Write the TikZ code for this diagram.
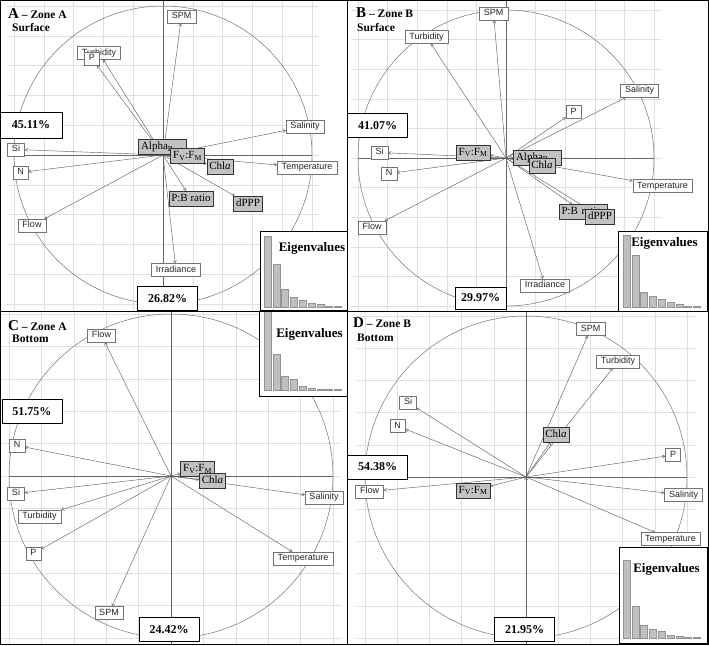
\documentclass[tikz,border=0pt]{standalone}
\usepackage{fontspec}
\setmainfont{Liberation Serif}
\newfontfamily\arial{Liberation Sans}
\usetikzlibrary{arrows.meta,shadows}
\pgfdeclarelayer{back}
\pgfdeclarelayer{mid}
\pgfsetlayers{back,mid,main}
\definecolor{boxgray}{gray}{0.76}
\definecolor{bargray}{gray}{0.75}
\tikzstyle{varbox}   = [draw=black!55,fill=white,inner xsep=4.5pt,inner ysep=2.4pt,text height=6.6pt,text depth=1.7pt,text=black!85,font=\arial\fontsize{9}{10}\selectfont]
\tikzstyle{respbox}  = [draw=black!80,fill=boxgray,inner xsep=2.5pt,inner ysep=2.4pt,text height=7.6pt,text depth=2.4pt,font=\fontsize{11}{12}\selectfont,drop shadow={shadow xshift=0.8pt,shadow yshift=-0.8pt,opacity=1,fill=black!65}]
\tikzstyle{pctbox}   = [draw,line width=0.9pt,fill=white,minimum width=60pt,minimum height=24pt,inner sep=0pt,font=\bfseries\fontsize{12}{13}\selectfont]
\tikzstyle{eigbox}   = [draw,line width=1pt,fill=white,inner sep=0pt]
\tikzstyle{eiglabel} = [inner sep=0pt,font=\bfseries\fontsize{13}{14}\selectfont]
\tikzstyle{eigbar}   = [fill=bargray,draw=gray!85,line width=0.3pt]
\tikzstyle{paneltitle} = [anchor=base west,inner sep=0pt,font=\bfseries\fontsize{11.5}{13}\selectfont]
\tikzstyle{loading}  = [->,>={Straight Barb[length=2.5pt,width=3.2pt]},draw=black!62,line width=0.45pt]
\tikzstyle{gridline} = [gray!25,line width=0.5pt]
\tikzstyle{axisline} = [black!60,line width=0.8pt]
\tikzstyle{circ}     = [black!55,line width=0.5pt]
% grid, circle and axes of one panel: cx, cy, r, x0, x1, y0, y1
\newcommand{\pcaback}[7]{%
  \begin{scope}
    \clip (#4,#6) rectangle (#5,#7);
    \foreach \k in {-5,...,5}{
      \draw[gridline] ({#1+\k*#3/5},#6) -- ({#1+\k*#3/5},#7);
      \draw[gridline] ({#1-1.05*#3},{#2+\k*#3/5}) -- ({#1+1.05*#3},{#2+\k*#3/5});
    }
    \draw[axisline] (#1,#6) -- (#1,#7);
    \draw[axisline] ({#1-#3},#2) -- ({#1+#3},#2);
    \draw[circ] (#1,#2) circle[radius=#3];
  \end{scope}}

\begin{document}
\begin{tikzpicture}[x=1pt,y=-1pt]
\useasboundingbox (0,0) rectangle (709,645);

\begin{pgfonlayer}{back}
\pcaback{163}{155}{149}{0}{347}{0}{311}
\pcaback{506}{158}{148}{347}{709}{0}{311}
\pcaback{171}{476}{162}{0}{347}{311}{645}
\pcaback{526}{477}{161}{347}{709}{311}{645}
\end{pgfonlayer}

% A - Zone A, surface
\coordinate (A0) at (163,155);
\node[varbox] (ASPM)  at (181.5,16.5) {SPM};
\node[varbox] (ATurb) at (99,53)      {Turbidity};
\node[varbox] (AP)    at (92,58.5)    {P};
\node[varbox] (ASal)  at (305,126.5)  {Salinity};
\node[varbox] (ASi)   at (16,149.5)   {Si};
\node[varbox] (AN)    at (20.5,172.5) {N};
\node[varbox] (AFlow) at (32,225.5)   {Flow};
\node[varbox] (ATemp) at (307,167.5)  {Temperature};
\node[varbox] (AIrr)  at (176,270)    {Irradiance};
\node[respbox,text width=43pt,align=left] (AAlpha) at (162.5,147) {Alpha\textsubscript{B}};
\node[respbox] (AFvFm) at (187.5,156) {F\textsubscript{V}:F\textsubscript{M}};
\node[respbox] (AChla) at (220,166.5) {Chl\textit{a}};
\node[respbox] (APB)   at (191,198.5) {P:B ratio};
\node[respbox] (AdPPP) at (248,203.5) {dPPP};
\node[pctbox,minimum width=62pt,minimum height=26pt] (Apc1) at (31,125) {45.11\%};
\node[pctbox] (Apc2) at (167.5,298.5) {26.82\%};
\node[eigbox,minimum width=87pt,minimum height=79pt] (Aeig) at (303.5,270.5) {};
\foreach \h [count=\i from 0] in {71,43,18,10,7,4,3,1,1}
  \draw[eigbar] ({264+8.8*\i},307) rectangle ++(7,-\h);
\node[eiglabel] (AeigT) at (312,248) {Eigenvalues};
\node[paneltitle] (Atitle) at (8,18) {{\fontsize{15}{15}\selectfont A} – Zone A};
\node[paneltitle] (Adepth) at (12,31) {Surface};

% B - Zone B, surface
\coordinate (B0) at (506,158);
\node[varbox] (BSPM)  at (493.5,13.5) {SPM};
\node[varbox] (BTurb) at (426.5,37)   {Turbidity};
\node[varbox] (BSal)  at (639.5,90.5) {Salinity};
\node[varbox] (BP)    at (573.5,112)  {P};
\node[varbox] (BSi)   at (379.5,152.5) {Si};
\node[varbox] (BN)    at (389,173.5)  {N};
\node[varbox] (BTemp) at (662.5,186)  {Temperature};
\node[varbox] (BFlow) at (372,227.5)  {Flow};
\node[varbox] (BIrr)  at (545,285.5)  {Irradiance};
\node[respbox] (BFvFm) at (473,152.5) {F\textsubscript{V}:F\textsubscript{M}};
\node[respbox,text width=43pt,align=left] (BAlpha) at (537.5,157.5) {Alpha\textsubscript{B}};
\node[respbox] (BChla) at (542,165.5) {Chl\textit{a}};
\node[respbox,text width=43pt,align=left] (BPB) at (583,212) {P:B ratio};
\node[respbox] (BdPPP) at (600,216.5) {dPPP};
\node[pctbox] (Bpc1) at (377.5,125.5) {41.07\%};
\node[pctbox,minimum width=51pt,minimum height=22pt] (Bpc2) at (480.5,298) {29.97\%};
\node[eigbox,minimum width=89pt,minimum height=80pt] (Beig) at (662.5,271) {};
\foreach \h [count=\i from 0] in {72,52,15,11,8,5,3,1.2,1}
  \draw[eigbar] ({623+8.8*\i},307) rectangle ++(7,-\h);
\node[eiglabel] (BeigT) at (664.5,243) {Eigenvalues};
\node[paneltitle] (Btitle) at (356,17) {{\fontsize{15}{15}\selectfont B} – Zone B};
\node[paneltitle] (Bdepth) at (357,31) {Surface};

% C - Zone A, bottom
\coordinate (C0) at (171,476);
\node[varbox] (CFlow) at (101.5,335.5) {Flow};
\node[varbox] (CN)    at (17,445.5)   {N};
\node[varbox] (CSi)   at (16,493.5)   {Si};
\node[varbox] (CTurb) at (39.5,516.5) {Turbidity};
\node[varbox] (CP)    at (33.5,553.5) {P};
\node[varbox] (CSPM)  at (109,613)    {SPM};
\node[varbox] (CSal)  at (324,497.5)  {Salinity};
\node[varbox] (CTemp) at (303,558.5)  {Temperature};
\node[respbox] (CFvFm) at (197.5,469) {F\textsubscript{V}:F\textsubscript{M}};
\node[respbox] (CChla) at (212.5,481) {Chl\textit{a}};
\node[pctbox] (Cpc1) at (32,411.5) {51.75\%};
\node[pctbox] (Cpc2) at (169,629.5) {24.42\%};
\node[eigbox,minimum width=88pt,minimum height=85pt] (Ceig) at (303,353.5) {};
\foreach \h [count=\i from 0] in {79,36,14,11,4,2,1.2,1,0.8}
  \draw[eigbar] ({264+8.8*\i},390) rectangle ++(7,-\h);
\node[eiglabel] (CeigT) at (309.5,334) {Eigenvalues};
\node[paneltitle] (Ctitle) at (8,330) {{\fontsize{15}{15}\selectfont C} – Zone A};
\node[paneltitle] (Cdepth) at (12,342) {Bottom};

% D - Zone B, bottom
\coordinate (D0) at (526,477);
\node[varbox] (DSPM)  at (590.5,329)  {SPM};
\node[varbox] (DTurb) at (618,361.5)  {Turbidity};
\node[varbox] (DSi)   at (408,402.5)  {Si};
\node[varbox] (DN)    at (397.5,426)  {N};
\node[varbox] (DP)    at (673,455)    {P};
\node[varbox] (DFlow) at (369.5,491.5) {Flow};
\node[varbox] (DSal)  at (683.5,495)  {Salinity};
\node[varbox] (DTemp) at (670.5,539)  {Temperature};
\node[respbox] (DChla) at (556,434.5) {Chl\textit{a}};
\node[respbox] (DFvFm) at (473,490.5) {F\textsubscript{V}:F\textsubscript{M}};
\node[pctbox] (Dpc1) at (377.5,467) {54.38\%};
\node[pctbox] (Dpc2) at (524.5,629.5) {21.95\%};
\node[eigbox,minimum width=88pt,minimum height=96pt] (Deig) at (663,595) {};
\foreach \h [count=\i from 0] in {78,32,13,9,7,3,2,1,1}
  \draw[eigbar] ({623+8.8*\i},638) rectangle ++(7,-\h);
\node[eiglabel] (DeigT) at (666.5,569) {Eigenvalues};
\node[paneltitle] (Dtitle) at (353,327) {{\fontsize{15}{15}\selectfont D} – Zone B};
\node[paneltitle] (Ddepth) at (357,341) {Bottom};

\begin{pgfonlayer}{mid}
\path[loading]
  (A0) edge (ASPM) edge (ATurb) edge (AP) edge (ASal) edge (ASi) edge (AN) edge (AFlow)
       edge (ATemp) edge (AIrr) edge (AFvFm) edge (AChla) edge (APB) edge (AdPPP)
  (B0) edge (BSPM) edge (BTurb) edge (BSal) edge (BP) edge (BSi) edge (BN) edge (BTemp)
       edge (BFlow) edge (BIrr) edge (BFvFm) edge (BAlpha) edge (BChla) edge (BPB) edge (BdPPP)
  (C0) edge (CFlow) edge (CN) edge (CSi) edge (CTurb) edge (CP) edge (CSPM) edge (CSal)
       edge (CTemp) edge (CFvFm) edge (CChla)
  (D0) edge (DSPM) edge (DTurb) edge (DSi) edge (DN) edge (DP) edge (DFlow) edge (DSal)
       edge (DTemp) edge (DChla) edge (DFvFm);
\end{pgfonlayer}

\draw[line width=1pt] (0.5,0.5) rectangle (708.5,644.5);
\draw[line width=1pt] (347,0) -- (347,645) (0,311) -- (709,311);
\end{tikzpicture}
\end{document}
